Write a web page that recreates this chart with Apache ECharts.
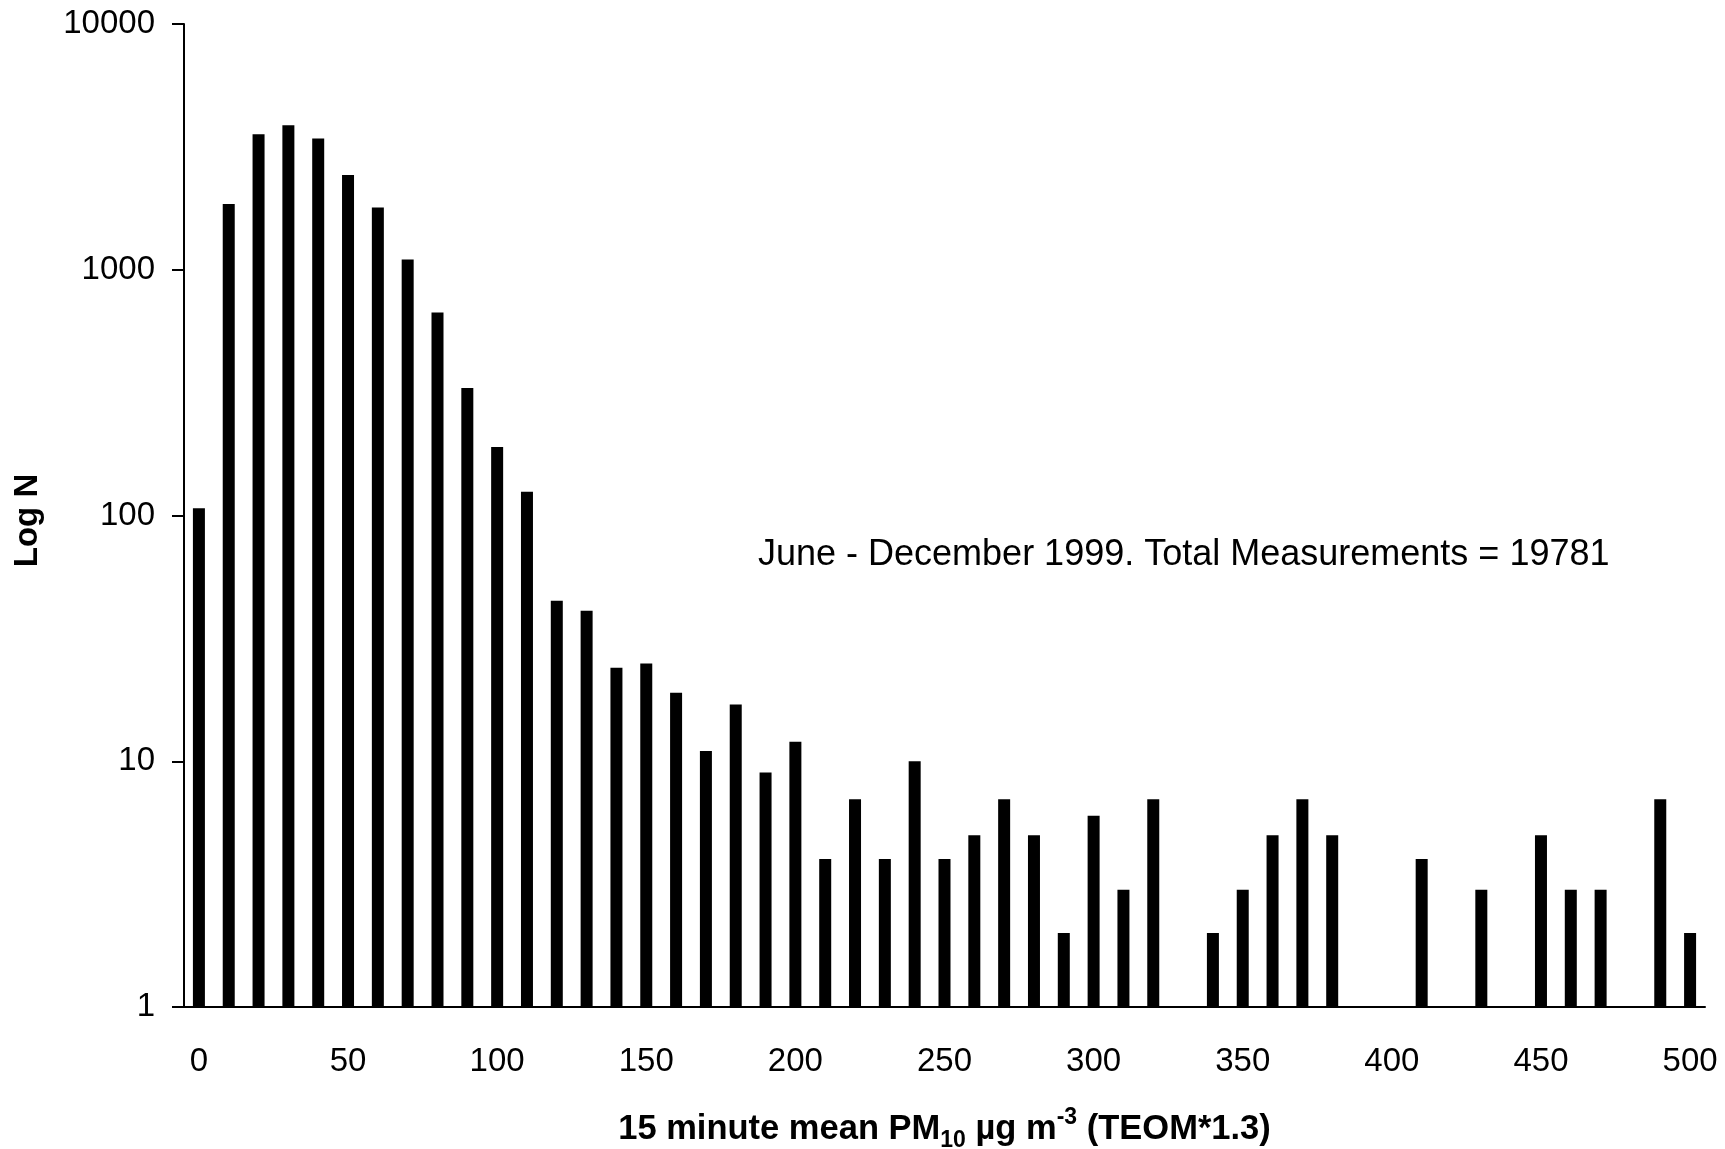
<!DOCTYPE html>
<html>
<head>
<meta charset="utf-8">
<title>PM10 frequency distribution</title>
<script src="https://cdn.jsdelivr.net/npm/echarts@6/dist/echarts.min.js"></script>
<style>
  html, body { margin: 0; padding: 0; background: #fff; }
  #main { width: 1725px; height: 1149px; }
</style>
</head>
<body>
<div id="main"></div>
<script>
// 15 minute mean PM10 bins (ug m-3), step 10
var categories = ['0', '10', '20', '30', '40', '50', '60', '70', '80', '90',
    '100', '110', '120', '130', '140', '150', '160', '170', '180', '190',
    '200', '210', '220', '230', '240', '250', '260', '270', '280', '290',
    '300', '310', '320', '330', '340', '350', '360', '370', '380', '390',
    '400', '410', '420', '430', '440', '450', '460', '470', '480', '490', '500'];

// number of measurements in each bin ('-' = none)
var counts = [107, 1850, 3560, 3870, 3420, 2430, 1790, 1100, 670, 330,
    190, 125, 45, 41, 24, 25, 19, 11, 17, 9,
    12, 4, 7, 4, 10, 4, 5, 7, 5, 2,
    6, 3, 7, '-', 2, 3, 5, 7, 5, '-',
    '-', 4, '-', 3, '-', 5, 3, 3, '-', 7, 2];

var yTicks = [1, 10, 100, 1000, 10000];

var font = '"Liberation Sans", Arial, sans-serif';

var chart = echarts.init(document.getElementById('main'));

var option = {
    backgroundColor: '#fff',
    animation: false,
    grid: {
        left: 184,
        right: 20,
        top: 24,
        bottom: 142,
        containLabel: false,
        outerBoundsMode: 'none'
    },
    xAxis: {
        type: 'category',
        data: categories,
        boundaryGap: true,
        axisLine: { lineStyle: { color: '#000', width: 2 } },
        axisTick: {
            interval: 0,
            alignWithLabel: false,
            length: 12,
            lineStyle: { color: '#000', width: 2 }
        },
        axisLabel: {
            interval: 4,
            margin: 38,
            color: '#000',
            fontSize: 33,
            fontFamily: font
        },
        name: '{t|15 minute mean PM}{sub|10}{t| µg m}{sup|-3}{t| (TEOM*1.3)}',
        nameLocation: 'middle',
        nameGap: 99,
        nameTextStyle: {
            rich: {
                t: { fontSize: 34.5, fontWeight: 'bold', fontFamily: font, color: '#000', lineHeight: 46 },
                sub: { fontSize: 23, fontWeight: 'bold', fontFamily: font, color: '#000', lineHeight: 23, verticalAlign: 'bottom' },
                sup: { fontSize: 23, fontWeight: 'bold', fontFamily: font, color: '#000', lineHeight: 23, verticalAlign: 'top' }
            }
        }
    },
    yAxis: {
        type: 'log',
        logBase: 10,
        min: yTicks[0],
        max: yTicks[yTicks.length - 1],
        splitLine: { show: false },
        minorTick: { show: false },
        axisLine: { show: true, lineStyle: { color: '#000', width: 2 } },
        axisTick: { show: true, length: 12, lineStyle: { color: '#000', width: 2 } },
        axisLabel: {
            margin: 29,
            color: '#000',
            fontSize: 33,
            fontFamily: font,
            formatter: function (v) { return String(Math.round(v)); }
        },
        name: 'Log N',
        nameLocation: 'middle',
        nameRotate: 90,
        nameGap: 140,
        nameTextStyle: {
            fontSize: 33,
            fontWeight: 'bold',
            fontFamily: font,
            color: '#000',
            padding: [0, 10, 0, 0]
        }
    },
    series: [
        {
            name: 'N',
            type: 'bar',
            data: counts,
            barWidth: 12,
            itemStyle: { color: '#000' }
        }
    ],
    graphic: [
        {
            type: 'text',
            left: 758,
            top: 537,
            style: {
                text: 'June - December 1999. Total Measurements = 19781',
                font: '36px ' + font,
                fill: '#000'
            }
        }
    ]
};

chart.setOption(option);
</script>
</body>
</html>
